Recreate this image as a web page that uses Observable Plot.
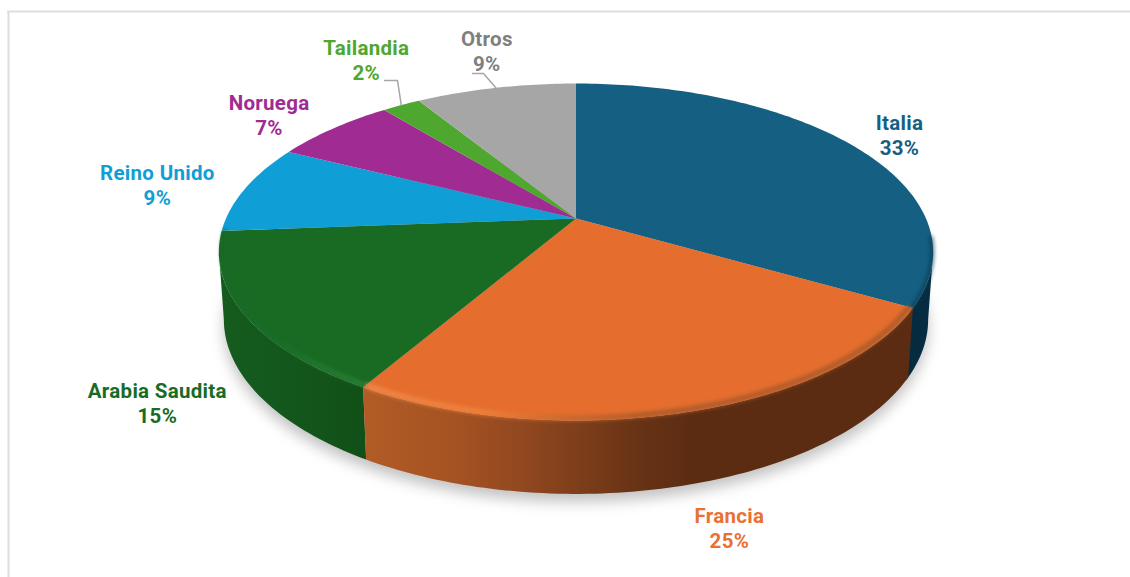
<!DOCTYPE html>
<html>
<head>
<meta charset="utf-8">
<script src="https://cdn.jsdelivr.net/npm/d3@7"></script>
<script src="https://cdn.jsdelivr.net/npm/@observablehq/plot@0.6"></script>
<style>
  html, body { margin: 0; padding: 0; background: #fff; overflow: hidden; }
  svg { display: block; }
  .shadow { filter: blur(7px); }
  .rim { filter: blur(2px); }
  .lbl text { letter-spacing: 0.3px; }
</style>
</head>
<body>
<div id="chart"></div>
<script>
// Data
const categories = ["Italia", "Francia", "Arabia Saudita", "Reino Unido", "Noruega", "Tailandia", "Otros"];
const shares = [33.3, 25.1, 15.4, 8.6, 6.7, 2.1, 8.8];
const faceColors = ["#156082", "#E56E2E", "#196B24", "#0F9ED5", "#A02B93", "#4EA72E", "#A6A6A6"];
const labelColors = ["#156082", "#E97132", "#196B24", "#0F9ED5", "#A02B93", "#4EA72E", "#7F7F7F"];

// Perspective model of the tilted disc (layout only)
const apex = {x: 575.5, y: 218}, A = 350, B = 161.8, k = 0.199;
const wall = {cy0: 251.5, cy1: 319, sx: 0.986, sy: 1.035};
const rad = d => d * Math.PI / 180;
const top3d = (deg, r = 1) => {
  const u = Math.sin(rad(deg)) * r, v = Math.cos(rad(deg)) * r, w = 1 + k * v;
  return {x: apex.x + A * u / w, y: apex.y - B * v / w};
};
const base3d = (deg) => {
  const p = top3d(deg);
  return {x: apex.x + (p.x - apex.x) * wall.sx, y: wall.cy1 + (p.y - wall.cy0) * wall.sy};
};
const arcDegrees = (a, b) => {
  const n = Math.max(2, Math.ceil(Math.abs(b - a)));
  return d3.range(n + 1).map(i => a + (b - a) * i / n);
};
// Angles at which the disc reaches its right and left extremes: the silhouette of the wall
const rightExtreme = Math.acos(-k) * 180 / Math.PI;
const leftExtreme = 360 - rightExtreme;

// Slices built from the shares
const total = d3.sum(shares);
let running = 0;
const slices = categories.map((name, i) => {
  const a0 = running / total * 360;
  running += shares[i];
  const a1 = running / total * 360;
  return {name, share: shares[i], a0, a1, mid: (a0 + a1) / 2, face: faceColors[i], labelColor: labelColors[i]};
});

const facePoints = slices.flatMap(s => [
  {slice: s.name, color: s.face, ...apex},
  ...arcDegrees(s.a0, s.a1).map(d => ({slice: s.name, color: s.face, ...top3d(d)}))
]);

const wallOf = (a, b) => [
  ...arcDegrees(a, b).map(d => top3d(d)),
  ...arcDegrees(b, a).map(d => base3d(d))
];
const [italia, francia, arabia] = slices;
const baseRing = arcDegrees(0, 360).map(d => base3d(d));

// Label placement relative to each slice's rim midpoint
const labelNudge = {
  "Italia": [48, -10], "Francia": [27, 118], "Arabia Saudita": [-87, 88], "Reino Unido": [-88, -4],
  "Noruega": [-64, -14], "Tailandia": [-35, -46], "Otros": [-9, -37]
};
const labels = slices.map(s => {
  const p = top3d(s.name === "Francia" ? 163 : s.mid);
  const [dx, dy] = labelNudge[s.name];
  return {x: p.x + dx, y: p.y + dy, text: `${s.name}\n${Math.round(s.share)}%`, color: s.labelColor};
});

// Leader lines for the two small top labels
const leader = (name, x0, y0, x1) => {
  const s = slices.find(d => d.name === name), p = top3d(s.mid);
  return [{z: name, x: x0, y: y0}, {z: name, x: x1, y: y0}, {z: name, x: p.x, y: p.y}];
};
const leaders = [...leader("Tailandia", 384, 80, 397), ...leader("Otros", 472, 73, 483)];

// Gradients
const gradient = (defs, id, stops) => {
  const g = defs.append("linearGradient").attr("id", id).attr("gradientUnits", "userSpaceOnUse")
    .attr("x1", 0).attr("x2", 1130).attr("y1", 0).attr("y2", 0);
  stops.forEach(([x, c]) => g.append("stop").attr("offset", x / 1130).attr("stop-color", c));
};
const defsMark = () => {
  const defs = d3.create("svg:defs");
  gradient(defs, "wallFrancia", [[362, "#B25C26"], [450, "#A65322"], [520, "#924820"], [580, "#7C3E1A"], [640, "#673215"], [690, "#5C2C12"], [910, "#5C2C12"]]);
  gradient(defs, "wallArabia", [[218, "#155C1E"], [300, "#13561C"], [365, "#115018"]]);
  gradient(defs, "wallItalia", [[905, "#052A3E"], [935, "#072E44"]]);
  gradient(defs, "rimFrancia", [[362, "#F08A4C"], [480, "#F0823F"], [560, "#C8692F"], [640, "#A8592A"], [910, "#A8592A"]]);
  gradient(defs, "rimArabia", [[218, "#186726"], [280, "#1A6F27"], [330, "#2A8437"], [364, "#34903F"]]);
  return defs.node();
};

const chart = Plot.plot({
  width: 1130,
  height: 577,
  margin: 0,
  x: {domain: [0, 1130], range: [0, 1130], axis: null},
  y: {domain: [0, 577], range: [0, 577], axis: null},
  color: {type: "identity"},
  style: {background: "#fff"},
  marks: [
    defsMark,
    Plot.ruleY([11], {x1: 7, x2: 1130, stroke: "#DDDDDD", strokeWidth: 2}),
    Plot.ruleX([8], {y1: 11, y2: 577, stroke: "#DDDDDD", strokeWidth: 2}),
    Plot.line(baseRing, {x: d => d.x, y: d => d.y + 8, fill: "#C2C2C2", stroke: "none", className: "shadow"}),
    Plot.line(wallOf(rightExtreme, italia.a1 + 1), {x: "x", y: "y", fill: "url(#wallItalia)", stroke: "none"}),
    Plot.line(wallOf(arabia.a0, leftExtreme), {x: "x", y: "y", fill: "url(#wallArabia)", stroke: "none"}),
    Plot.line(wallOf(francia.a0, francia.a1), {x: "x", y: "y", fill: "url(#wallFrancia)", stroke: "none"}),
    Plot.line(facePoints, {x: "x", y: "y", z: "slice", fill: "color", stroke: "none"}),
    Plot.line(arcDegrees(rightExtreme - 5, italia.a1).map(d => top3d(d, 0.997)), {x: "x", y: "y", stroke: "#0A3A52", strokeWidth: 3, className: "rim"}),
    Plot.line(arcDegrees(arabia.a0 + 0.4, arabia.a1).map(d => top3d(d, 0.99)), {x: "x", y: "y", stroke: "url(#rimArabia)", strokeWidth: 3, className: "rim"}),
    Plot.line(arcDegrees(francia.a0 + 0.4, francia.a1 - 0.4).map(d => top3d(d, 0.99)), {x: "x", y: "y", stroke: "url(#rimFrancia)", strokeWidth: 5, className: "rim"}),
    Plot.line(leaders, {x: "x", y: "y", z: "z", stroke: "#A6A6A6", strokeWidth: 1.5}),
    Plot.text(labels, {
      x: "x", y: "y", text: "text", fill: "color", className: "lbl",
      fontFamily: "Roboto", fontWeight: 700, fontSize: 20.5, lineHeight: 1.22, textAnchor: "middle"
    })
  ]
});
document.getElementById("chart").append(chart);
</script>
</body>
</html>
